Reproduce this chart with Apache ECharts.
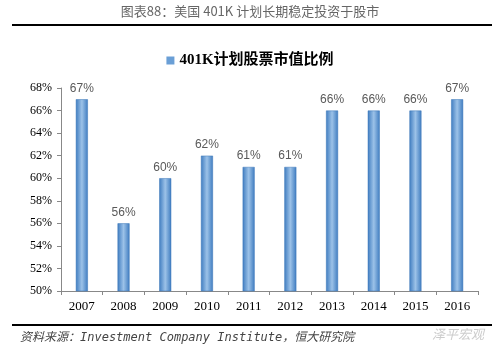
<!DOCTYPE html>
<html>
<head>
<meta charset="utf-8">
<script src="https://cdn.jsdelivr.net/npm/echarts@6/dist/echarts.min.js"></script>
<style>
	html, body { margin: 0; padding: 0; background: #fff; }
	#main { width: 500px; height: 354px; }
</style>
</head>
<body>
<div id="main"></div>
<script>
const years = ['2007', '2008', '2009', '2010', '2011', '2012', '2013', '2014', '2015', '2016'];
const shares = [67, 56, 60, 62, 61, 61, 66, 66, 66, 67];
const seriesName = '401K计划股票市值比例';

const chart = echarts.init(document.getElementById('main'));
const barColor = new echarts.graphic.LinearGradient(0, 0, 1, 0, [
	{ offset: 0, color: '#3f7cc0' },
	{ offset: 0.5, color: '#9cc2e8' },
	{ offset: 1, color: '#3f7cc0' },
]);
chart.setOption({
	animation: false,
	graphic: [{
		type: 'text',
		left: 'center',
		top: 5,
		style: {
			text: '图表88：美国 401K 计划长期稳定投资于股市',
			font: '13px "Noto Sans CJK SC"',
			fill: '#666',
		},
	}, {
		type: 'line',
		shape: { x1: 12, y1: 25, x2: 492, y2: 25 },
		style: { stroke: '#000', lineWidth: 2 },
	}, {
		type: 'line',
		shape: { x1: 12, y1: 325, x2: 492, y2: 325 },
		style: { stroke: '#000', lineWidth: 2 },
	}, {
		type: 'text',
		left: 20,
		top: 332,
		style: {
			text: '资料来源：Investment Company Institute，恒大研究院',
			font: 'italic 12px "DejaVu Sans Mono", "Noto Sans CJK SC"',
			fill: '#444',
		},
	}, {
		type: 'text',
		left: 432,
		top: 328,
		style: {
			text: '泽平宏观',
			font: 'italic 13px "Noto Sans CJK SC"',
			fill: '#ccc',
		},
	}],
	legend: {
		top: 48,
		left: 'center',
		itemWidth: 8,
		itemHeight: 8,
		itemGap: 4,
		textStyle: {
			fontFamily: '"Liberation Serif", "Noto Sans CJK SC"',
			fontWeight: 'bold',
			fontSize: 15,
			color: '#000',
		},
		data: [{ name: seriesName, icon: 'rect', itemStyle: { color: '#6a9fd6', borderWidth: 0 } }],
	},
	grid: {
		left: 61,
		right: 22,
		top: 88,
		bottom: 63,
	},
	xAxis: {
		type: 'category',
		data: years,
		axisLine: { lineStyle: { color: '#888' } },
		axisTick: { show: true, alignWithLabel: false, length: 4, lineStyle: { color: '#888' } },
		axisLabel: {
			fontFamily: '"Liberation Serif"',
			fontSize: 13,
			color: '#000',
			margin: 9,
		},
	},
	yAxis: {
		type: 'value',
		min: 50,
		max: 68,
		interval: 2,
		axisLine: { show: true, lineStyle: { color: '#888' } },
		axisTick: { show: true, length: 4, lineStyle: { color: '#888' } },
		splitLine: { show: false },
		axisLabel: {
			formatter: '{value}%',
			fontFamily: '"Liberation Serif"',
			fontSize: 12,
			color: '#000',
			margin: 9,
		},
	},
	series: [{
		name: seriesName,
		type: 'bar',
		data: shares,
		barWidth: 12,
		itemStyle: { color: barColor, borderColor: '#3a76b8', borderWidth: 0.5 },
		label: {
			show: true,
			position: 'top',
			formatter: '{c}%',
			fontFamily: '"Liberation Sans"',
			fontSize: 12,
			color: '#595959',
			distance: 5,
		},
	}],
});
</script>
</body>
</html>
